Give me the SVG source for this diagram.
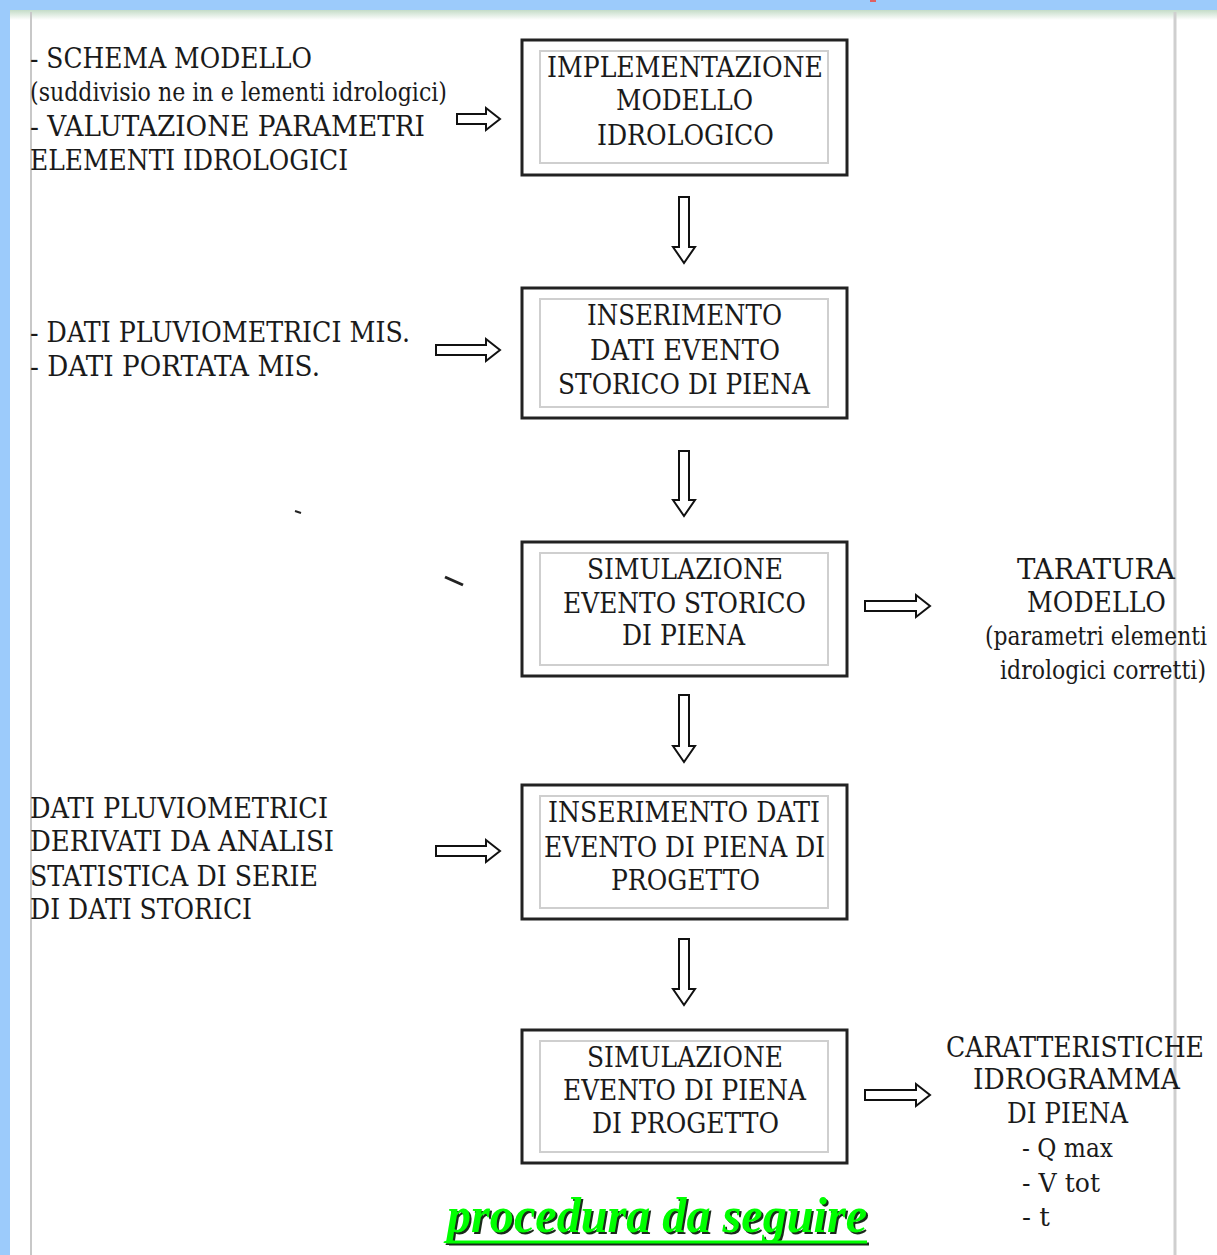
<svg xmlns="http://www.w3.org/2000/svg" width="1217" height="1255" viewBox="0 0 1217 1255">
<defs>
<style>
.t{font-family:"DejaVu Serif","Liberation Serif",serif;fill:#1a1a1a;}
.b{font-size:28px;}
.s{font-size:26px;}
.box{fill:#fff;stroke:#222;stroke-width:3;}
.inner{fill:none;stroke:#cfcfcf;stroke-width:2;}
.arr{fill:#fff;stroke:#111;stroke-width:2;stroke-linejoin:miter;}
.title{font-family:"Liberation Serif",serif;font-weight:bold;font-style:italic;font-size:50px;}
</style>
<linearGradient id="topfade" x1="0" y1="0" x2="0" y2="1">
<stop offset="0" stop-color="#c4dcc8"/>
<stop offset="1" stop-color="#ffffff"/>
</linearGradient>
</defs>
<rect x="0" y="0" width="1217" height="1255" fill="#ffffff"/>
<rect x="10" y="10" width="1207" height="10" fill="url(#topfade)"/>
<rect x="0" y="0" width="1217" height="10" fill="#9ccbfb"/>
<rect x="0" y="0" width="10" height="1255" fill="#9ccbfb"/>
<rect x="870" y="0" width="6" height="2" fill="#e06060"/>
<line x1="31" y1="12" x2="31" y2="1255" stroke="#c8c8c8" stroke-width="2"/>
<line x1="1175" y1="12" x2="1175" y2="1255" stroke="#cfcfcf" stroke-width="3"/>

<g id="connectors">
<path class="arr" d="M679,197 H689 V247 H695 L684,263 L673,247 H679 Z"/>
<path class="arr" d="M679,451 H689 V500 H695 L684,516 L673,500 H679 Z"/>
<path class="arr" d="M679,695 H689 V746 H695 L684,762 L673,746 H679 Z"/>
<path class="arr" d="M679,939 H689 V989 H695 L684,1005 L673,989 H679 Z"/>
<path class="arr" d="M457,114 H486 V108 L500,119 L486,130 V124 H457 Z"/>
<path class="arr" d="M436,345 H486 V339 L500,350 L486,361 V355 H436 Z"/>
<path class="arr" d="M436,846 H486 V840 L500,851 L486,862 V856 H436 Z"/>
<path class="arr" d="M865,601 H916 V595 L930,606 L916,617 V611 H865 Z"/>
<path class="arr" d="M865,1090 H916 V1084 L930,1095 L916,1106 V1100 H865 Z"/>
</g>

<g id="in1">
<text class="t b" x="30" y="68" textLength="282" lengthAdjust="spacingAndGlyphs">- SCHEMA MODELLO</text>
<text class="t s" x="30" y="101" textLength="417" lengthAdjust="spacingAndGlyphs">(suddivisio ne in e lementi idrologici)</text>
<text class="t b" x="30" y="136" textLength="395" lengthAdjust="spacingAndGlyphs">- VALUTAZIONE PARAMETRI</text>
<text class="t b" x="30" y="170" textLength="318" lengthAdjust="spacingAndGlyphs">ELEMENTI IDROLOGICI</text>
</g>

<g id="box1">
<rect class="box" x="522" y="40" width="325" height="135"/>
<rect class="inner" x="540" y="51" width="288" height="112"/>
<text class="t b" x="547" y="77" textLength="276" lengthAdjust="spacingAndGlyphs">IMPLEMENTAZIONE</text>
<text class="t b" x="616" y="110" textLength="137" lengthAdjust="spacingAndGlyphs">MODELLO</text>
<text class="t b" x="597" y="145" textLength="177" lengthAdjust="spacingAndGlyphs">IDROLOGICO</text>
</g>

<g id="in2">
<text class="t b" x="30" y="342" textLength="380" lengthAdjust="spacingAndGlyphs">- DATI PLUVIOMETRICI MIS.</text>
<text class="t b" x="30" y="376" textLength="290" lengthAdjust="spacingAndGlyphs">- DATI PORTATA MIS.</text>
</g>

<g id="box2">
<rect class="box" x="522" y="288" width="325" height="130"/>
<rect class="inner" x="540" y="299" width="288" height="108"/>
<text class="t b" x="587" y="325" textLength="195" lengthAdjust="spacingAndGlyphs">INSERIMENTO</text>
<text class="t b" x="590" y="360" textLength="190" lengthAdjust="spacingAndGlyphs">DATI EVENTO</text>
<text class="t b" x="558" y="394" textLength="252" lengthAdjust="spacingAndGlyphs">STORICO DI PIENA</text>
</g>

<g id="box3">
<rect class="box" x="522" y="542" width="325" height="134"/>
<rect class="inner" x="540" y="553" width="288" height="112"/>
<text class="t b" x="587" y="579" textLength="196" lengthAdjust="spacingAndGlyphs">SIMULAZIONE</text>
<text class="t b" x="563" y="613" textLength="243" lengthAdjust="spacingAndGlyphs">EVENTO STORICO</text>
<text class="t b" x="622" y="645" textLength="123" lengthAdjust="spacingAndGlyphs">DI PIENA</text>
</g>

<g id="out3">
<text class="t b" x="1017" y="579" textLength="158" lengthAdjust="spacingAndGlyphs">TARATURA</text>
<text class="t b" x="1027" y="612" textLength="139" lengthAdjust="spacingAndGlyphs">MODELLO</text>
<text class="t s" x="985" y="645" textLength="222" lengthAdjust="spacingAndGlyphs">(parametri elementi</text>
<text class="t s" x="1000" y="679" textLength="206" lengthAdjust="spacingAndGlyphs">idrologici corretti)</text>
</g>

<g id="in4">
<text class="t b" x="30" y="818" textLength="298" lengthAdjust="spacingAndGlyphs">DATI PLUVIOMETRICI</text>
<text class="t b" x="30" y="851" textLength="304" lengthAdjust="spacingAndGlyphs">DERIVATI DA ANALISI</text>
<text class="t b" x="30" y="886" textLength="288" lengthAdjust="spacingAndGlyphs">STATISTICA DI SERIE</text>
<text class="t b" x="30" y="919" textLength="222" lengthAdjust="spacingAndGlyphs">DI DATI STORICI</text>
</g>

<g id="box4">
<rect class="box" x="522" y="785" width="325" height="134"/>
<rect class="inner" x="540" y="796" width="288" height="112"/>
<text class="t b" x="548" y="822" textLength="272" lengthAdjust="spacingAndGlyphs">INSERIMENTO DATI</text>
<text class="t b" x="544" y="857" textLength="281" lengthAdjust="spacingAndGlyphs">EVENTO DI PIENA DI</text>
<text class="t b" x="611" y="890" textLength="149" lengthAdjust="spacingAndGlyphs">PROGETTO</text>
</g>

<g id="box5">
<rect class="box" x="522" y="1030" width="325" height="133"/>
<rect class="inner" x="540" y="1041" width="288" height="111"/>
<text class="t b" x="587" y="1067" textLength="196" lengthAdjust="spacingAndGlyphs">SIMULAZIONE</text>
<text class="t b" x="563" y="1100" textLength="243" lengthAdjust="spacingAndGlyphs">EVENTO DI PIENA</text>
<text class="t b" x="592" y="1133" textLength="187" lengthAdjust="spacingAndGlyphs">DI PROGETTO</text>
</g>

<g id="out5">
<text class="t b" x="946" y="1057" textLength="258" lengthAdjust="spacingAndGlyphs">CARATTERISTICHE</text>
<text class="t b" x="973" y="1089" textLength="207" lengthAdjust="spacingAndGlyphs">IDROGRAMMA</text>
<text class="t b" x="1007" y="1123" textLength="121" lengthAdjust="spacingAndGlyphs">DI PIENA</text>
<text class="t s" x="1022" y="1157" textLength="91" lengthAdjust="spacingAndGlyphs">- Q max</text>
<text class="t s" x="1022" y="1192" textLength="78" lengthAdjust="spacingAndGlyphs">- V tot</text>
<text class="t s" x="1022" y="1226" textLength="28" lengthAdjust="spacingAndGlyphs">- t</text>
</g>

<g id="marks">
<line x1="295" y1="511" x2="301" y2="513" stroke="#222" stroke-width="2"/>
<line x1="445" y1="577" x2="463" y2="585" stroke="#222" stroke-width="3"/>
</g>

<g id="title">
<text class="title" x="449" y="1234" fill="#1a2a1a" textLength="420" lengthAdjust="spacingAndGlyphs">procedura da seguire</text>
<line x1="449" y1="1244" x2="869" y2="1244" stroke="#1a2a1a" stroke-width="3"/>
<text class="title" x="447" y="1232" fill="#00ff00" textLength="420" lengthAdjust="spacingAndGlyphs">procedura da seguire</text>
<line x1="447" y1="1242" x2="867" y2="1242" stroke="#00ff00" stroke-width="3"/>
</g>
</svg>
